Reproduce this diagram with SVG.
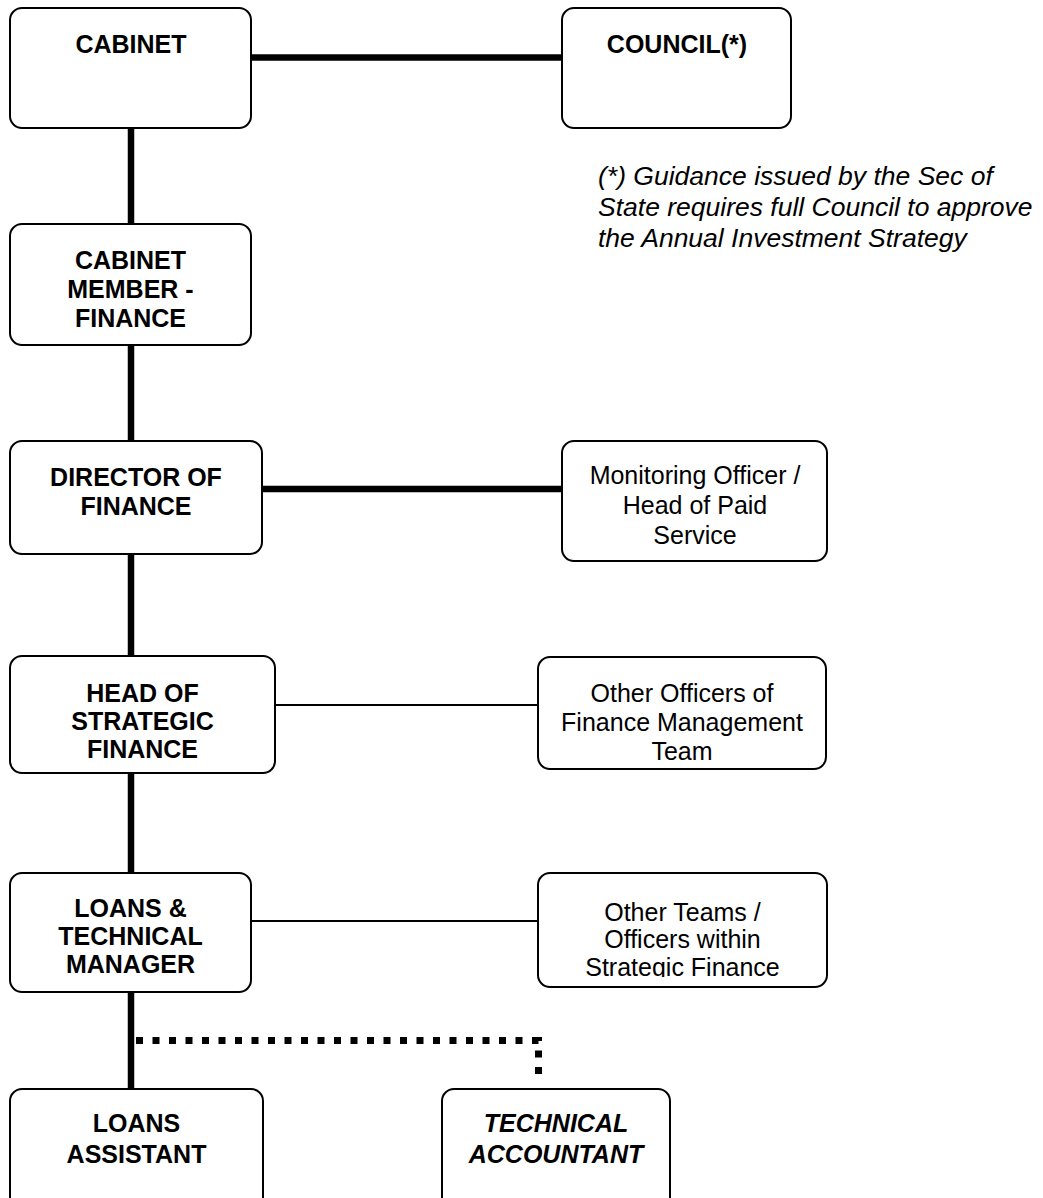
<svg xmlns="http://www.w3.org/2000/svg" width="1043" height="1198" viewBox="0 0 1043 1198">
<style>
.box{fill:#fff;stroke:#000;stroke-width:2}
.b{font-family:"Liberation Sans",Arial,sans-serif;font-size:25px;font-weight:bold;text-anchor:middle;fill:#000}
.r{font-family:"Liberation Sans",Arial,sans-serif;font-size:25px;text-anchor:middle;fill:#000}
.bi{font-family:"Liberation Sans",Arial,sans-serif;font-size:25px;font-weight:bold;font-style:italic;text-anchor:middle;fill:#000}
.note{font-family:"Liberation Sans",Arial,sans-serif;font-size:26.5px;font-style:italic;fill:#000}
.thick{stroke:#000;stroke-width:6.5;fill:none}
.thin{stroke:#000;stroke-width:2;fill:none}
.dot{stroke:#000;stroke-width:7;fill:none;stroke-dasharray:7 9.5}
</style>
<defs>
<clipPath id="clipTeams"><rect x="530" y="860" width="310" height="117"/></clipPath>
</defs>
<g id="connectors">
<line class="thick" x1="251" y1="57.5" x2="562" y2="57.5"/>
<line class="thick" x1="131" y1="128" x2="131" y2="224"/>
<line class="thick" x1="131" y1="345" x2="131" y2="441"/>
<line class="thick" x1="262" y1="489" x2="562" y2="489"/>
<line class="thick" x1="131" y1="554" x2="131" y2="656"/>
<line class="thin" x1="275" y1="705" x2="538" y2="705"/>
<line class="thick" x1="131" y1="773" x2="131" y2="873"/>
<line class="thin" x1="251" y1="921" x2="538" y2="921"/>
<line class="thick" x1="131" y1="992" x2="131" y2="1089"/>
<path class="dot" d="M136 1040.5 H538.5 V1082"/>
</g>
<g id="cabinet">
<rect class="box" x="10" y="8" width="241" height="120" rx="12"/>
<text class="b" x="131" y="53">CABINET</text>
</g>
<g id="council">
<rect class="box" x="562" y="8" width="229" height="120" rx="12"/>
<text class="b" x="677" y="53">COUNCIL(*)</text>
</g>
<g id="note">
<text class="note" x="598" y="185">(*) Guidance issued by the Sec of</text>
<text class="note" x="598" y="216">State requires full Council to approve</text>
<text class="note" x="598" y="247">the Annual Investment Strategy</text>
</g>
<g id="cabinet-member">
<rect class="box" x="10" y="224" width="241" height="121" rx="12"/>
<text class="b" x="130.5" y="269">CABINET</text>
<text class="b" x="130.5" y="298">MEMBER -</text>
<text class="b" x="130.5" y="327">FINANCE</text>
</g>
<g id="director">
<rect class="box" x="10" y="441" width="252" height="113" rx="12"/>
<text class="b" x="136" y="486">DIRECTOR OF</text>
<text class="b" x="136" y="515">FINANCE</text>
</g>
<g id="monitoring">
<rect class="box" x="562" y="441" width="265" height="120" rx="12"/>
<text class="r" x="695" y="484">Monitoring Officer /</text>
<text class="r" x="695" y="514">Head of Paid</text>
<text class="r" x="695" y="544">Service</text>
</g>
<g id="head-strategic">
<rect class="box" x="10" y="656" width="265" height="117" rx="12"/>
<text class="b" x="142.5" y="702">HEAD OF</text>
<text class="b" x="142.5" y="730">STRATEGIC</text>
<text class="b" x="142.5" y="758">FINANCE</text>
</g>
<g id="other-officers">
<rect class="box" x="538" y="657" width="288" height="112" rx="12"/>
<text class="r" x="682" y="702">Other Officers of</text>
<text class="r" x="682" y="731">Finance Management</text>
<text class="r" x="682" y="760">Team</text>
</g>
<g id="loans-tech">
<rect class="box" x="10" y="873" width="241" height="119" rx="12"/>
<text class="b" x="130.5" y="917">LOANS &amp;</text>
<text class="b" x="130.5" y="945">TECHNICAL</text>
<text class="b" x="130.5" y="973">MANAGER</text>
</g>
<g id="other-teams">
<rect class="box" x="538" y="873" width="289" height="114" rx="12"/>
<text class="r" x="682.5" y="921">Other Teams /</text>
<text class="r" x="682.5" y="948">Officers within</text>
<text class="r" x="682.5" y="976" clip-path="url(#clipTeams)">Strategic Finance</text>
</g>
<g id="loans-assistant">
<rect class="box" x="10" y="1089" width="253" height="130" rx="12"/>
<text class="b" x="136.5" y="1132">LOANS</text>
<text class="b" x="136.5" y="1163">ASSISTANT</text>
</g>
<g id="technical-accountant">
<rect class="box" x="442" y="1089" width="228" height="130" rx="12"/>
<text class="bi" x="556" y="1132">TECHNICAL</text>
<text class="bi" x="556" y="1163">ACCOUNTANT</text>
</g>
</svg>
